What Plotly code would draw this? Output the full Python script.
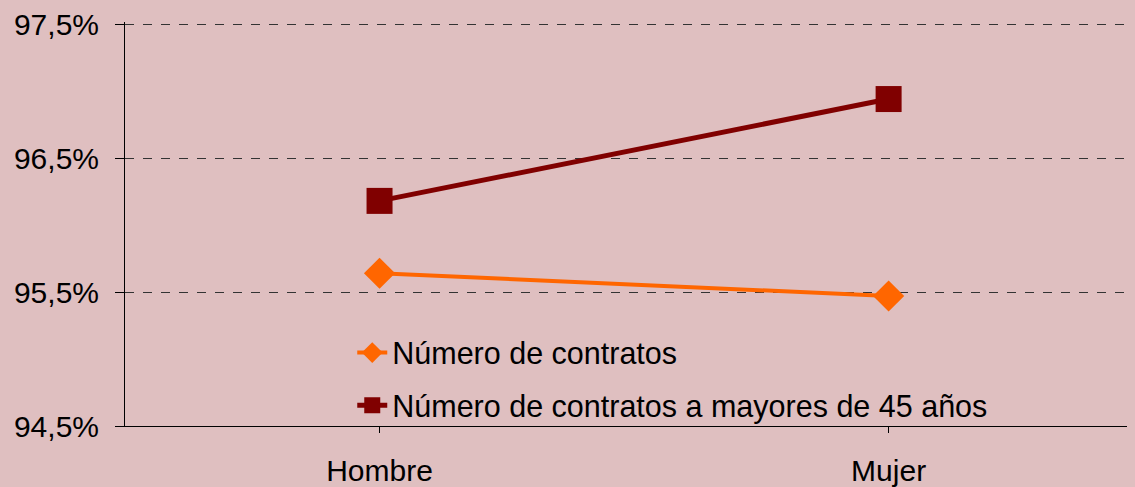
import plotly.graph_objects as go

categories = ["Hombre", "Mujer"]
series_names = ["Número de contratos", "Número de contratos a mayores de 45 años"]
contratos = [95.64, 95.47]
contratos_45 = [96.18, 96.94]
y_ticks = [94.5, 95.5, 96.5, 97.5]

BG = "#DFBFC0"
FONT = "Liberation Sans, Arial, sans-serif"

fig = go.Figure()
fig.add_trace(go.Scatter(
    x=[0, 1], y=contratos, name=series_names[0], mode="lines+markers",
    line=dict(color="#FF6600", width=4),
    marker=dict(symbol="diamond", size=24, color="#FF6600"),
    legendgroup="a",
))
fig.add_trace(go.Scatter(
    x=[0, 1], y=contratos_45, name=series_names[1], mode="lines+markers",
    line=dict(color="#800000", width=5),
    marker=dict(symbol="square", size=26, color="#800000"),
    legendgroup="b",
))

fig.update_layout(
    width=1127, height=479,
    margin=dict(l=117, r=0, t=12, b=61),
    paper_bgcolor=BG, plot_bgcolor=BG,
    separators=",.",
    font=dict(family=FONT, size=30, color="black"),
    showlegend=True,
    legend=dict(
        x=0.225, y=0.247, xanchor="left", yanchor="top",
        bgcolor="rgba(0,0,0,0)", font=dict(size=30.5),
        traceorder="grouped", tracegroupgap=10,
    ),
    xaxis=dict(
        range=[-0.5, 1.484], tickmode="array", tickvals=[0, 1], ticktext=categories,
        showgrid=False, zeroline=False, showline=True, linecolor="black", linewidth=1,
        ticks="outside", tickson="boundaries", ticklen=6, tickcolor="black",
        ticklabelstandoff=12,
    ),
    yaxis=dict(
        range=[94.5, 97.515], tickmode="array", tickvals=y_ticks,
        ticktext=[f"{v:.1f}%".replace(".", ",") for v in y_ticks],
        showgrid=True, gridcolor="#333333", griddash="dash", gridwidth=1,
        zeroline=False, showline=True, linecolor="black", linewidth=1,
        ticks="outside", ticklen=9, tickcolor="black",
        ticklabelstandoff=10, ticklabeloverflow="allow",
    ),
)

fig.write_html("out.html", post_script=f"document.body.style.backgroundColor='{BG}';")
